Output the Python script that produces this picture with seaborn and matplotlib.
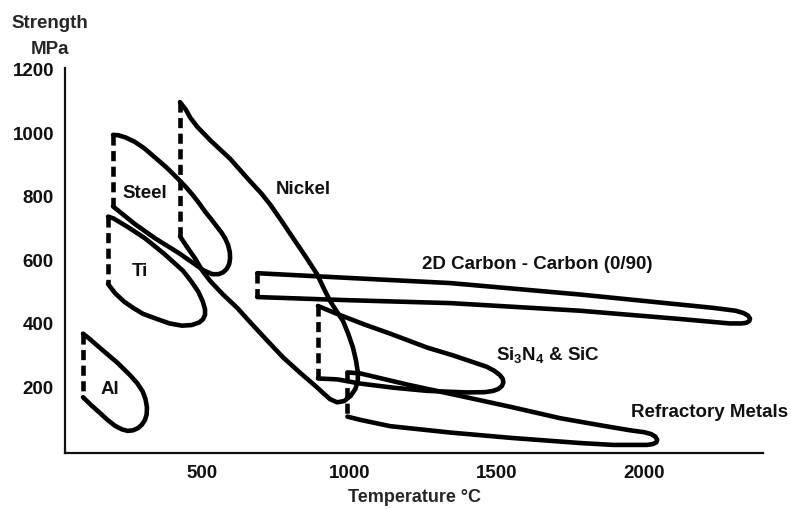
import matplotlib
matplotlib.use("Agg")
import matplotlib.pyplot as plt
import seaborn as sns

# strength (MPa) vs temperature (C) envelopes
al_t = [96, 115, 140, 170, 212, 255, 280, 298, 308, 313, 312, 306, 296, 283, 266, 248, 228, 205, 180, 154, 125, 96]
al_s = [366, 352, 332, 308, 275, 236, 210, 185, 160, 134, 112, 94, 80, 69, 62, 60, 65, 76, 94, 116, 140, 166]

ti_t = [181, 200, 250, 306, 370, 436, 465, 487, 502, 510, 510, 503, 490, 465, 432, 390, 347, 300, 266, 235, 205, 181]
ti_s = [734, 728, 700, 666, 618, 563, 528, 498, 468, 443, 425, 411, 401, 393, 391, 398, 412, 428, 447, 467, 493, 522]

steel_t = [198, 215, 240, 272, 305, 340, 380, 418, 445, 470, 490, 510, 530, 548, 565, 578, 588, 594, 595,
           592, 584, 572, 556, 534, 505, 476, 420, 340, 270, 198]
steel_s = [991, 990, 983, 969, 948, 920, 888, 853, 827, 800, 776, 750, 727, 705, 685, 666, 645, 623, 603,
           585, 570, 559, 553, 553, 565, 584, 620, 666, 712, 766]

nickel_t = [425, 445, 460, 485, 530, 595, 660, 700, 731, 770, 809, 850, 890, 912, 934, 956, 978, 996, 1012, 1022,
            1029, 1028, 1020, 1004, 982, 958, 934, 912, 890, 830, 775, 721, 665, 619, 570, 528, 500, 476, 450, 425]
nickel_s = [1094, 1070, 1045, 1015, 972, 916, 848, 808, 772, 720, 666, 610, 553, 510, 469, 437, 406, 365, 322, 282,
            241, 215, 192, 170, 154, 150, 160, 178, 197, 245, 291, 344, 400, 447, 490, 531, 565, 603, 637, 672]

cc_t = [687, 1000, 1341, 1782, 2234, 2310, 2336, 2352, 2359, 2356, 2346, 2330, 2290, 2122, 1782, 1341, 1000, 687]
cc_s = [556, 541, 525, 489, 447, 438, 431, 423, 413, 405, 400, 398, 398, 412, 438, 462, 471, 481]

sin_t = [893, 958, 1050, 1138, 1264, 1350, 1433, 1465, 1490, 1510, 1520, 1522, 1517, 1505, 1488, 1460,
         1400, 1264, 1149, 1036, 960, 893]
sin_s = [453, 428, 395, 366, 322, 298, 272, 262, 250, 236, 224, 212, 201, 192, 186, 182,
         181, 186, 196, 209, 222, 225]

ref_t = [993, 1036, 1200, 1376, 1550, 1715, 1850, 1952, 2000, 2024, 2038, 2044, 2041, 2030, 2010, 1894,
         1782, 1550, 1341, 1138, 1036, 993]
ref_s = [244, 241, 205, 170, 135, 100, 78, 62, 56, 50, 42, 32, 24, 19, 16, 16,
         22, 38, 55, 75, 95, 105]

loops = [(al_t, al_s), (ti_t, ti_s), (steel_t, steel_s), (nickel_t, nickel_s),
         (cc_t, cc_s), (sin_t, sin_s), (ref_t, ref_s)]

labels = ["Al", "Ti", "Steel", "Nickel", "2D Carbon - Carbon (0/90)", "Si$_3$N$_4$ & SiC", "Refractory Metals"]
label_t = [188, 290, 306, 843, 1637, 1674, 2221]
label_s = [192, 563, 811, 821, 585, 302, 120]

x_ticks = [500, 1000, 1500, 2000]
y_ticks = [200, 400, 600, 800, 1000, 1200]

sns.set_style("white")
plt.rcParams["font.family"] = ["Liberation Sans", "DejaVu Sans"]
plt.rcParams["font.weight"] = "bold"
plt.rcParams["mathtext.fontset"] = "custom"
plt.rcParams["mathtext.rm"] = "Liberation Sans:bold"
plt.rcParams["mathtext.default"] = "rm"

fig = plt.figure(figsize=(7.91, 5.10), dpi=100)
ax = fig.add_axes([0.0822, 0.1098, 0.8824, 0.7541])

for t, s in loops:
    sns.lineplot(x=t, y=s, sort=False, estimator=None, color="black", lw=3.3, ax=ax,
                 solid_joinstyle="round", solid_capstyle="round")
    # dashed closing edge on the low-temperature side
    ax.plot([t[0], t[-1]], [s[0], s[-1]], color="black", lw=3.3, dashes=(2.2, 1.2), dash_capstyle="butt")

for txt, t, s in zip(labels, label_t, label_s):
    ax.text(t, s, txt, ha="center", va="center", fontsize=13.5, fontweight="bold", color="#111111")

ax.set_xlim(35, 2403)
ax.set_ylim(-9.4, 1200)
ax.set_xticks(x_ticks)
ax.set_yticks(y_ticks)
ax.tick_params(direction="in", length=8, width=1.6, labelsize=13.5, pad=8, colors="#111111")
for lbl in ax.get_xticklabels() + ax.get_yticklabels():
    lbl.set_fontweight("bold")

for side in ["top", "right"]:
    ax.spines[side].set_visible(False)
for side in ["left", "bottom"]:
    ax.spines[side].set_linewidth(1.6)
    ax.spines[side].set_color("#111111")

ax.set_xlabel("Temperature °C", fontsize=13, fontweight="bold", labelpad=5)
ax.set_ylabel("Strength\nMPa", fontsize=13.5, fontweight="bold", rotation=0, ha="center", va="center",
              linespacing=1.65)
ax.yaxis.set_label_coords(-0.0215, 1.086)

fig.savefig("out.png", dpi=100)
